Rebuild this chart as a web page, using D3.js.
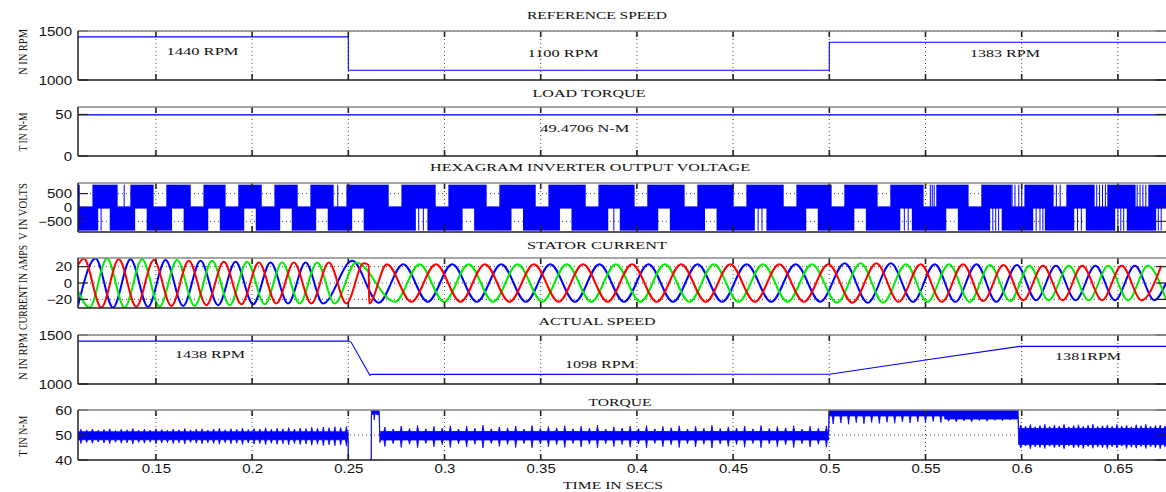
<!DOCTYPE html>
<html>
<head>
<meta charset="utf-8">
<script src="https://cdn.jsdelivr.net/npm/d3@7"></script>
<style>
  body { margin: 0; background: #fff; }
  svg { display: block; }
  .serif { font-family: "Liberation Serif", "DejaVu Serif", serif; fill: #111; }
  .tick text { font-family: "Liberation Sans", Arial, sans-serif; fill: #111; }
</style>
</head>
<body>
<svg width="1166" height="492"></svg>
<script>
// ---- data ----
var xTicks = [0.15, 0.2, 0.25, 0.3, 0.35, 0.4, 0.45, 0.5, 0.55, 0.6, 0.65];
var xTickLabels = ["0.15", "0.2", "0.25", "0.3", "0.35", "0.4", "0.45", "0.5", "0.55", "0.6", "0.65"];
var xLabel = "TIME IN SECS";

var panelTitles = ["REFERENCE SPEED", "LOAD TORQUE", "HEXAGRAM INVERTER OUTPUT VOLTAGE",
                   "STATOR CURRENT", "ACTUAL SPEED", "TORQUE"];
var panelYLabels = ["N IN RPM", "T IN N-M", "V IN VOLTS", "CURRENT IN AMPS", "N IN RPM", "T IN N-M"];
var panelYDomains = [[1000, 1500], [0, 59], [-880, 880], [-30.5, 30.5], [1000, 1500], [40, 60]];
var panelYTicks = [[1000, 1500], [0, 50], [-500, 0, 500], [-20, 0, 20], [1000, 1500], [40, 50, 60]];

// reference speed (rpm)
var refT = [0.1095, 0.25, 0.25, 0.5, 0.5, 0.675];
var refN = [1440, 1440, 1100, 1100, 1385, 1385];

// load torque (N-m)
var loadT = [0.1095, 0.675];
var loadTq = [49.4706, 49.4706];

// actual speed (rpm)
var actT = [0.1095, 0.2500, 0.2515, 0.2612, 0.2620, 0.5000, 0.5500, 0.5990, 0.675];
var actN = [1438, 1438, 1425, 1090, 1098, 1100, 1245, 1384, 1384];

// inverter voltage: time windows where the upper / lower band is empty
var vTopGaps = [[0.1104, 0.1170], [0.1301, 0.1367], [0.1488, 0.1554], [0.1681, 0.1747], [0.1862, 0.1928],
  [0.2050, 0.2116], [0.2237, 0.2303], [0.2424, 0.2490], [0.2710, 0.2776], [0.2954, 0.3020],
  [0.3219, 0.3285], [0.3474, 0.3540], [0.3734, 0.3800], [0.3988, 0.4054], [0.4248, 0.4314],
  [0.4503, 0.4569], [0.4763, 0.4829], [0.5012, 0.5078], [0.5251, 0.5317], [0.5490, 0.5556],
  [0.5724, 0.5790], [0.5948, 0.6014], [0.6166, 0.6232], [0.6379, 0.6445], [0.6592, 0.6658]];
var vBotGaps = [[0.1200, 0.1260], [0.1392, 0.1452], [0.1584, 0.1644], [0.1772, 0.1832], [0.1959, 0.2019],
  [0.2146, 0.2206], [0.2333, 0.2393], [0.2520, 0.2580], [0.2851, 0.2911], [0.3094, 0.3154],
  [0.3348, 0.3408], [0.3600, 0.3660], [0.3851, 0.3911], [0.4111, 0.4171], [0.4354, 0.4414],
  [0.4613, 0.4673], [0.4880, 0.4940], [0.5130, 0.5190], [0.5369, 0.5429], [0.5608, 0.5668],
  [0.5836, 0.5896], [0.6060, 0.6120], [0.6273, 0.6333], [0.6486, 0.6546], [0.6699, 0.6759]];
// single switching pulses seen inside the gaps
var vTopLines = [0.1335, 0.2445, 0.5525, 0.5535, 0.5545, 0.5950, 0.5965, 0.5985, 0.6000, 0.6180, 0.6200,
  0.6390, 0.6405, 0.6420, 0.6435, 0.6600, 0.6615, 0.6630, 0.6645];
var vBotLines = [0.1215, 0.2866, 0.2890, 0.3880, 0.4630, 0.4650, 0.5390, 0.5410, 0.5850, 0.5865, 0.5880,
  0.6075, 0.6095, 0.6110, 0.6290, 0.6310, 0.6500, 0.6515, 0.6530, 0.6710, 0.6725];
var vPeak = 820, vTrough = -830;

// stator current extrema [time, amps] per phase
var iBlue = [[0.1095, -28], [0.1186, 30], [0.1277, -30], [0.1368, 29], [0.1459, -29], [0.1550, 28], [0.1641, -28],
  [0.1732, 27], [0.1823, -27], [0.1914, 26], [0.2005, -26], [0.2096, 25], [0.2187, -25], [0.2278, 25], [0.2369, -25],
  [0.2520, 27], [0.2658, -24], [0.2785, 23], [0.2913, -23], [0.3040, 23], [0.3168, -23],
  [0.3295, 23], [0.3423, -23], [0.3550, 23], [0.3678, -23], [0.3805, 23], [0.3933, -23], [0.4060, 23], [0.4188, -23],
  [0.4315, 23], [0.4443, -23], [0.4570, 23], [0.4698, -23], [0.4825, 23], [0.4953, -23], [0.5080, 24], [0.5200, -24],
  [0.5320, 24], [0.5435, -23], [0.5548, 23], [0.5655, -23], [0.5765, 23], [0.5868, -23], [0.5975, 22], [0.6075, -21],
  [0.6178, 21], [0.6280, -21], [0.6383, 21], [0.6485, -21], [0.6588, 21], [0.6690, -21], [0.6750, 0]];
var iGreen = [[0.1095, -10], [0.1155, -30], [0.1246, 30], [0.1337, -30], [0.1428, 29], [0.1519, -29], [0.1610, 28],
  [0.1701, -28], [0.1792, 27], [0.1883, -27], [0.1974, 26], [0.2065, -26], [0.2156, 25], [0.2247, -25], [0.2338, 25],
  [0.2429, -25], [0.2540, 25], [0.2743, -23], [0.2870, 23], [0.2998, -23], [0.3125, 23], [0.3253, -23],
  [0.3380, 23], [0.3508, -23], [0.3635, 23], [0.3763, -23], [0.3890, 23], [0.4018, -23], [0.4145, 23], [0.4273, -23],
  [0.4400, 23], [0.4528, -23], [0.4655, 23], [0.4783, -23], [0.4910, 23], [0.5040, -24], [0.5163, 24], [0.5280, -24],
  [0.5398, 23], [0.5510, -23], [0.5622, 23], [0.5730, -23], [0.5835, 22], [0.5940, -22], [0.6040, 21], [0.6140, -21],
  [0.6245, 21], [0.6348, -21], [0.6450, 21], [0.6553, -21], [0.6655, 21], [0.6750, -20]];
var iRed = [[0.1095, 22], [0.1125, 30], [0.1216, -30], [0.1307, 29], [0.1398, -29], [0.1489, 28], [0.1580, -28],
  [0.1671, 27], [0.1762, -27], [0.1853, 26], [0.1944, -26], [0.2035, 25], [0.2126, -25], [0.2217, 25], [0.2308, -25],
  [0.2399, 25], [0.2490, -25], [0.2580, 24], [0.2606, 22], [0.2608, -25], [0.2700, 23], [0.2828, -23], [0.2955, 23],
  [0.3083, -23], [0.3210, 23], [0.3338, -23], [0.3465, 23], [0.3593, -23], [0.3720, 23], [0.3848, -23], [0.3975, 23],
  [0.4103, -23], [0.4230, 23], [0.4358, -23], [0.4485, 23], [0.4613, -23], [0.4740, 23], [0.4868, -23], [0.4995, 23],
  [0.5120, -24], [0.5245, 24], [0.5360, -23], [0.5475, 23], [0.5585, -23], [0.5695, 23], [0.5800, -22], [0.5905, 22],
  [0.6008, -21], [0.6110, 21], [0.6213, -21], [0.6315, 21], [0.6418, -21], [0.6520, 21], [0.6623, -21], [0.6725, 21]];

// electromagnetic torque: ripple band per interval
var tqSegT0 = [0.1095, 0.2668, 0.4999, 0.5600, 0.5984];
var tqSegT1 = [0.2499, 0.4996, 0.5599, 0.5981, 0.6760];
var tqSegHi = [51.3, 51.4, 61.0, 61.0, 52.6];
var tqSegLo = [48.1, 48.0, 57.6, 56.4, 46.2];
// ripple spikes (time, top, bottom)
var tqSpikeT = [
  0.1110, 0.1140, 0.1170, 0.1200, 0.1230, 0.1260, 0.1290, 0.1320, 0.1350, 0.1380,
  0.1410, 0.1440, 0.1470, 0.1500, 0.1530, 0.1560, 0.1590, 0.1620, 0.1650, 0.1680,
  0.1710, 0.1740, 0.1770, 0.1800, 0.1830, 0.1860, 0.1890, 0.1920, 0.1950, 0.1980,
  0.2010, 0.2040, 0.2070, 0.2100, 0.2130, 0.2160, 0.2190, 0.2220, 0.2250, 0.2280,
  0.2310, 0.2340, 0.2370, 0.2400, 0.2430, 0.2460, 0.2490,
  0.2690, 0.2733, 0.2775, 0.2818, 0.2860, 0.2903, 0.2945, 0.2988, 0.3030, 0.3073,
  0.3115, 0.3158, 0.3200, 0.3243, 0.3285, 0.3328, 0.3370, 0.3413, 0.3455, 0.3498,
  0.3540, 0.3583, 0.3625, 0.3668, 0.3710, 0.3753, 0.3795, 0.3838, 0.3880, 0.3923,
  0.3965, 0.4008, 0.4050, 0.4093, 0.4135, 0.4178, 0.4220, 0.4263, 0.4305, 0.4348,
  0.4390, 0.4433, 0.4475, 0.4518, 0.4560, 0.4603, 0.4645, 0.4688, 0.4730, 0.4773,
  0.4815, 0.4858, 0.4900, 0.4943, 0.4985,
  0.5020, 0.5060, 0.5100, 0.5140, 0.5180, 0.5220, 0.5260, 0.5300, 0.5340, 0.5380,
  0.5420, 0.5460, 0.5500, 0.5540, 0.5580, 0.5620, 0.5660, 0.5700, 0.5740, 0.5780,
  0.5820, 0.5860, 0.5900, 0.5940,
  0.5995, 0.6020, 0.6045, 0.6070, 0.6095, 0.6120, 0.6145, 0.6170, 0.6195, 0.6220,
  0.6245, 0.6270, 0.6295, 0.6320, 0.6345, 0.6370, 0.6395, 0.6420, 0.6445, 0.6470,
  0.6495, 0.6520, 0.6545, 0.6570, 0.6595, 0.6620, 0.6645, 0.6670, 0.6695, 0.6720, 0.6745];
var tqSpikeHi = [
  52.3, 52.0, 52.4, 51.9, 52.2, 52.5, 51.8, 52.3, 52.1, 52.6, 51.9, 52.3, 52.0, 52.5, 52.2, 51.9,
  52.4, 52.1, 52.6, 52.0, 52.3, 52.5, 52.0, 52.4, 52.7, 52.1, 52.5, 52.3, 52.8, 52.2, 52.6, 52.4,
  52.9, 52.3, 52.7, 52.5, 53.0, 52.4, 52.8, 52.6, 53.1, 52.7, 53.2, 52.9, 53.3, 53.0, 53.4,
  53.2, 52.4, 53.6, 52.6, 53.8, 52.5, 53.4, 52.8, 53.7, 52.4, 53.5, 52.7, 53.9, 52.5, 53.3, 52.8,
  53.6, 52.4, 53.8, 52.6, 53.4, 52.9, 53.7, 52.5, 53.5, 52.7, 53.9, 52.4, 53.3, 52.8, 53.6, 52.6,
  53.8, 52.5, 53.4, 52.9, 53.7, 52.4, 53.5, 52.7, 53.9, 52.6, 53.3, 52.8, 53.6, 52.5, 53.8, 52.6,
  53.4, 52.9, 53.7, 52.4, 53.5, 52.7, 53.6,
  61, 61, 61, 61, 61, 61, 61, 61, 61, 61, 61, 61, 61, 61, 61, 61, 61, 61, 61, 61, 61, 61, 61, 61,
  54.0, 53.5, 54.2, 53.3, 53.8, 54.3, 53.4, 53.9, 53.6, 54.2, 53.3, 53.8, 54.1, 53.5, 53.9, 54.3,
  53.4, 53.7, 54.0, 53.5, 54.2, 53.6, 53.9, 53.3, 54.1, 53.7, 54.3, 53.5, 53.8, 54.0, 53.6];
var tqSpikeLo = [
  46.6, 47.0, 46.7, 47.2, 46.8, 46.5, 47.1, 46.7, 46.9, 46.4, 47.0, 46.7, 47.1, 46.5, 46.8, 47.0,
  46.6, 46.9, 46.4, 47.0, 46.7, 46.5, 46.9, 46.6, 46.3, 46.9, 46.5, 46.7, 46.2, 46.8, 46.4, 46.6,
  46.1, 46.7, 46.3, 46.5, 46.0, 46.6, 46.2, 46.4, 45.9, 46.3, 45.8, 46.1, 45.7, 46.0, 45.6,
  45.4, 46.5, 45.0, 46.3, 44.9, 46.6, 45.3, 46.2, 45.0, 46.5, 45.2, 46.3, 44.8, 46.6, 45.4, 46.2,
  45.0, 46.5, 44.9, 46.4, 45.3, 46.1, 45.0, 46.6, 45.2, 46.3, 44.8, 46.5, 45.4, 46.2, 45.1, 46.4,
  44.9, 46.6, 45.3, 46.1, 45.0, 46.5, 45.2, 46.3, 44.8, 46.4, 45.4, 46.2, 45.1, 46.6, 44.9, 46.4,
  45.3, 46.1, 45.0, 46.5, 45.2, 46.3, 45.1,
  54.4, 54.8, 54.3, 54.9, 54.5, 55.0, 54.6, 55.1, 54.7, 55.2, 54.8, 55.3, 54.9, 55.4, 55.0, 55.5,
  55.2, 55.6, 55.3, 55.8, 55.5, 55.9, 55.7, 56.0,
  44.8, 45.6, 44.5, 45.3, 45.0, 44.6, 45.5, 44.9, 45.2, 44.5, 45.6, 44.8, 45.1, 44.6, 45.4, 44.7,
  45.2, 44.9, 44.5, 45.3, 44.8, 45.5, 44.6, 45.1, 44.7, 45.4, 44.6, 45.2, 44.9, 44.5, 45.3];
// step transient after the speed command change (values below 40 run off the axes)
var tqJumpT  = [0.2500, 0.2619, 0.2620, 0.2632, 0.2635, 0.2638, 0.2660, 0.2664];
var tqJumpHi = [35, 35, 62, 62, 62, 62, 62, 50];
var tqJumpLo = [35, 35, 58, 58.5, 56, 58.5, 58, 47];

// in-plot notes
var notes = [
  {panel: 0, text: "1440 RPM", t: 0.1742, v: 1255},
  {panel: 0, text: "1100 RPM", t: 0.3616, v: 1235},
  {panel: 0, text: "1383 RPM", t: 0.5913, v: 1235},
  {panel: 1, text: "49.4706 N-M", t: 0.3729, v: 28.9},
  {panel: 4, text: "1438 RPM", t: 0.1781, v: 1267},
  {panel: 4, text: "1098 RPM", t: 0.3808, v: 1165},
  {panel: 4, text: "1381RPM", t: 0.6345, v: 1241}
];

// ---- layout ----
var svg = d3.select("svg");
var plotLeft = 78, plotRight = 1166;
var panelBox = [[31, 80], [107, 156], [183, 232], [258, 308], [335, 384], [410, 460]];
var titlePos = [[597, 18.5, 140], [589, 96.5, 113], [590, 170.5, 320], [597, 249, 140], [597, 325, 117], [620, 406, 63]];
var yLabelPos = [[27, 52, 46], [27, 132, 39], [27, 211.5, 57], [27, 287.5, 85], [27, 356.5, 47], [27, 436, 41]];
var noteWidth = [72, 71, 70, 89, 70, 70, 66];
var blue = "#0000ff", green = "#00ee00", red = "#ff0000";

var x = d3.scaleLinear().domain([0.1095, 0.675]).range([plotLeft, plotRight]);
var defs = svg.append("defs");

function sText(parent, str, px, py, size, sx, sy, rot, len) {
  var t = parent.append("text")
      .attr("class", "serif")
      .attr("transform", "translate(" + px + "," + py + ") rotate(" + (rot || 0) + ") scale(" + sx + "," + sy + ")")
      .attr("text-anchor", "middle")
      .style("font-size", size + "px")
      .text(str);
  if (len) t.attr("textLength", len).attr("lengthAdjust", "spacingAndGlyphs");
  return t;
}

var yScales = panelBox.map(function(b, i) {
  return d3.scaleLinear().domain(panelYDomains[i]).range([b[1], b[0]]);
});

panelBox.forEach(function(b, i) {
  var y = yScales[i];
  var g = svg.append("g");
  defs.append("clipPath").attr("id", "clip" + i)
    .append("rect").attr("x", plotLeft).attr("y", b[0])
    .attr("width", plotRight - plotLeft).attr("height", b[1] - b[0]);

  // dotted grid
  g.selectAll(".vg").data(xTicks).enter().append("line")
      .attr("x1", function(d) { return x(d); }).attr("x2", function(d) { return x(d); })
      .attr("y1", b[0]).attr("y2", b[1])
      .attr("stroke", "#333").attr("stroke-width", 0.9).attr("stroke-dasharray", "1,3");
  g.selectAll(".hg").data(panelYTicks[i]).enter().append("line")
      .attr("x1", plotLeft).attr("x2", plotRight)
      .attr("y1", function(d) { return y(d); }).attr("y2", function(d) { return y(d); })
      .attr("stroke", "#333").attr("stroke-width", 0.9).attr("stroke-dasharray", "1,3");

  // y tick labels through d3 axis
  var ax = g.append("g").attr("transform", "translate(" + plotLeft + ",0)")
      .call(d3.axisLeft(y).tickValues(panelYTicks[i]).tickSize(0).tickPadding(6).tickFormat(d3.format("d")));
  ax.select(".domain").remove();
  ax.selectAll("text")
      .attr("dy", "0.36em")
      .attr("transform", "scale(1,0.8)")
      .style("font-size", "15px");

  g.append("g").attr("class", "data").attr("clip-path", "url(#clip" + i + ")");

  // ticks
  xTicks.forEach(function(t) {
    g.append("line").attr("x1", x(t)).attr("x2", x(t)).attr("y1", b[1]).attr("y2", b[1] - 6)
      .attr("stroke", "#222").attr("stroke-width", 1.6);
    g.append("line").attr("x1", x(t)).attr("x2", x(t)).attr("y1", b[0]).attr("y2", b[0] + 6)
      .attr("stroke", "#222").attr("stroke-width", 1.6);
  });
  panelYTicks[i].forEach(function(v) {
    g.append("line").attr("x1", plotLeft).attr("x2", plotLeft + 10).attr("y1", y(v)).attr("y2", y(v))
      .attr("stroke", "#222").attr("stroke-width", 1.2);
    g.append("line").attr("x1", plotRight - 10).attr("x2", plotRight).attr("y1", y(v)).attr("y2", y(v))
      .attr("stroke", "#222").attr("stroke-width", 1.2);
  });

  // frame
  g.append("line").attr("x1", plotLeft).attr("x2", plotRight).attr("y1", b[0]).attr("y2", b[0])
    .attr("stroke", "#888").attr("stroke-width", 1.5);
  g.append("line").attr("x1", plotLeft).attr("x2", plotRight).attr("y1", b[1]).attr("y2", b[1])
    .attr("stroke", "#222").attr("stroke-width", 1.5);
  g.append("line").attr("x1", plotLeft).attr("x2", plotLeft).attr("y1", b[0]).attr("y2", b[1])
    .attr("stroke", "#222").attr("stroke-width", 1.5);

  sText(svg, panelTitles[i], titlePos[i][0], titlePos[i][1], 15.5, 1, 0.68, 0, titlePos[i][2]);
  sText(svg, panelYLabels[i], yLabelPos[i][0], yLabelPos[i][1], 12.5, 1, 1, -90, yLabelPos[i][2]);
});

function dataLayer(i) { return svg.selectAll(".data").filter(function(d, k) { return k === i; }); }

function polyLine(ts, vs, i, color, w) {
  var y = yScales[i];
  var pts = ts.map(function(t, k) { return [t, vs[k]]; });
  dataLayer(i).append("path")
    .attr("d", d3.line().x(function(d) { return x(d[0]); }).y(function(d) { return y(d[1]); })(pts))
    .attr("fill", "none").attr("stroke", color).attr("stroke-width", w);
}

// panel 1, 2, 5 lines
polyLine(refT, refN, 0, blue, 1.1);
polyLine(loadT, loadTq, 1, blue, 1.2);
polyLine(actT, actN, 4, blue, 1.1);

// panel 3 voltage blocks
function blocks(gaps) {
  var out = [], start = x.domain()[0];
  gaps.forEach(function(gp) { if (gp[0] > start) out.push([start, gp[0]]); start = gp[1]; });
  if (start < x.domain()[1]) out.push([start, x.domain()[1]]);
  return out;
}
var yv = yScales[2];
var vLayer = dataLayer(2);
vLayer.selectAll(".vt").data(blocks(vTopGaps)).enter().append("rect")
  .attr("x", function(d) { return x(d[0]); }).attr("width", function(d) { return x(d[1]) - x(d[0]); })
  .attr("y", yv(vPeak)).attr("height", yv(-40) - yv(vPeak)).attr("fill", blue);
vLayer.selectAll(".vb").data(blocks(vBotGaps)).enter().append("rect")
  .attr("x", function(d) { return x(d[0]); }).attr("width", function(d) { return x(d[1]) - x(d[0]); })
  .attr("y", yv(40)).attr("height", yv(vTrough) - yv(40)).attr("fill", blue);
vLayer.selectAll(".vtl").data(vTopLines).enter().append("line")
  .attr("x1", function(d) { return x(d); }).attr("x2", function(d) { return x(d); })
  .attr("y1", yv(vPeak)).attr("y2", yv(0)).attr("stroke", blue).attr("stroke-width", 1);
vLayer.selectAll(".vbl").data(vBotLines).enter().append("line")
  .attr("x1", function(d) { return x(d); }).attr("x2", function(d) { return x(d); })
  .attr("y1", yv(0)).attr("y2", yv(vTrough)).attr("stroke", blue).attr("stroke-width", 1);

// panel 4 currents
var yi = yScales[3];
var curLine = d3.line().curve(d3.curveMonotoneX)
  .x(function(d) { return x(d[0]); }).y(function(d) { return yi(d[1]); });
[[iBlue, blue], [iGreen, green], [iRed, red]].forEach(function(s) {
  dataLayer(3).append("path").attr("d", curLine(s[0]))
    .attr("fill", "none").attr("stroke", s[1]).attr("stroke-width", 2);
});

// panel 6 torque: band + spikes + transient, one outline
var yt = yScales[5];
var spikeHalf = 0.0005;
var tqRows = [];
tqSegT0.forEach(function(t0, s) {
  var t1 = tqSegT1[s], hi = tqSegHi[s], lo = tqSegLo[s];
  tqRows.push({t: t0, hi: hi, lo: lo});
  tqSpikeT.forEach(function(t, k) {
    if (t < t0 || t > t1) return;
    tqRows.push({t: t - spikeHalf, hi: hi, lo: lo});
    tqRows.push({t: t, hi: tqSpikeHi[k], lo: tqSpikeLo[k]});
    tqRows.push({t: t + spikeHalf, hi: hi, lo: lo});
  });
  tqRows.push({t: t1, hi: hi, lo: lo});
});
tqJumpT.forEach(function(t, k) { tqRows.push({t: t, hi: tqJumpHi[k], lo: tqJumpLo[k]}); });
tqRows.sort(function(a, b) { return a.t - b.t; });
dataLayer(5).append("path")
  .attr("d", d3.area().x(function(d) { return x(d.t); })
    .y0(function(d) { return yt(d.lo); }).y1(function(d) { return yt(d.hi); })(tqRows))
  .attr("fill", blue).attr("stroke", blue).attr("stroke-width", 0.8);

// x axis labels
var xa = svg.append("g").attr("transform", "translate(0," + panelBox[5][1] + ")")
  .call(d3.axisBottom(x).tickValues(xTicks).tickSize(0)
    .tickFormat(function(d, k) { return xTickLabels[k]; }));
xa.select(".domain").remove();
xa.selectAll("text").attr("y", 0).attr("dy", 0)
  .attr("transform", "translate(0,12.8) scale(1,0.8)").style("font-size", "15px");

sText(svg, xLabel, 613, 489, 15.5, 1, 0.68, 0, 100);

// notes
notes.forEach(function(n, k) {
  sText(svg, n.text, x(n.t), yScales[n.panel](n.v), 16.3, 1, 0.68, 0, noteWidth[k]);
});
</script>
</body>
</html>
